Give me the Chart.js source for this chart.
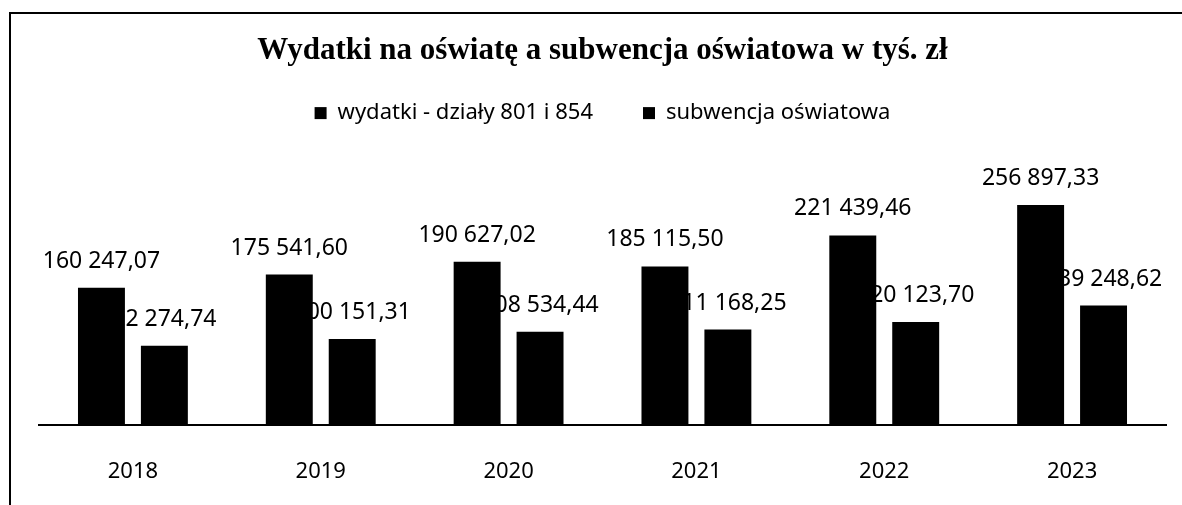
<!DOCTYPE html>
<html>
<head>
<meta charset="utf-8">
<script src="https://cdn.jsdelivr.net/npm/chart.js@4"></script>
<style>
  html, body { margin: 0; padding: 0; background: #fff; }
  #wrap { width: 1182px; height: 505px; position: relative; }
</style>
</head>
<body>
<div id="wrap"><canvas id="chart"></canvas></div>
<script>
const years = ['2018', '2019', '2020', '2021', '2022', '2023'];
const wydatki = [160247.07, 175541.60, 190627.02, 185115.50, 221439.46, 256897.33];
const subwencja = [92274.74, 100151.31, 108534.44, 111168.25, 120123.70, 139248.62];
const seriesNames = ['wydatki - działy 801 i 854', 'subwencja oświatowa'];

// 160 247,07 style
function fmt(v) {
  const parts = v.toFixed(2).split('.');
  const int = parts[0].replace(/\B(?=(\d{3})+(?!\d))/g, ' ');
  return int + ',' + parts[1];
}

// scan frame: top and left border lines
const framePlugin = {
  id: 'frame',
  afterDraw(chart) {
    const ctx = chart.ctx;
    ctx.save();
    ctx.fillStyle = '#000';
    ctx.fillRect(9, 12, 1173, 2);
    ctx.fillRect(9, 12, 2, 493);
    ctx.restore();
  }
};

const valueLabels = {
  id: 'valueLabels',
  afterDatasetsDraw(chart) {
    const ctx = chart.ctx;
    ctx.save();
    ctx.font = '23px "Noto Sans"';
    ctx.fillStyle = '#000';
    ctx.textAlign = 'center';
    ctx.textBaseline = 'alphabetic';
    chart.data.datasets.forEach((ds, i) => {
      chart.getDatasetMeta(i).data.forEach((bar, j) => {
        ctx.fillText(fmt(ds.data[j]), bar.x, bar.y - 20);
      });
    });
    ctx.restore();
  }
};

new Chart(document.getElementById('chart'), {
  type: 'bar',
  data: {
    labels: years,
    datasets: [
      { label: seriesNames[0], data: wydatki, backgroundColor: '#000' },
      { label: seriesNames[1], data: subwencja, backgroundColor: '#000' }
    ]
  },
  options: {
    responsive: true,
    maintainAspectRatio: false,
    animation: false,
    categoryPercentage: 0.67,
    barPercentage: 0.746,
    layout: { padding: { top: 49, left: 39, right: 16, bottom: -14 } },
    plugins: {
      title: {
        display: true,
        text: 'Wydatki na oświatę a subwencja oświatowa w tyś. zł',
        color: '#000',
        font: { family: '"Liberation Serif"', size: 31, weight: 'bold', lineHeight: 0.1 },
        padding: 0
      },
      legend: {
        labels: {
          color: '#000',
          font: { family: '"Noto Sans"', size: 22 },
          boxWidth: 12,
          boxHeight: 12,
          padding: 50
        }
      },
      tooltip: { enabled: false }
    },
    scales: {
      x: {
        grid: { display: false, drawTicks: false },
        border: { display: true, color: '#000', width: 2 },
        ticks: { color: '#000', font: { family: '"Noto Sans"', size: 22 }, padding: 34 }
      },
      y: {
        display: false,
        min: 0,
        max: 340000
      }
    }
  },
  plugins: [framePlugin, valueLabels]
});
</script>
</body>
</html>
